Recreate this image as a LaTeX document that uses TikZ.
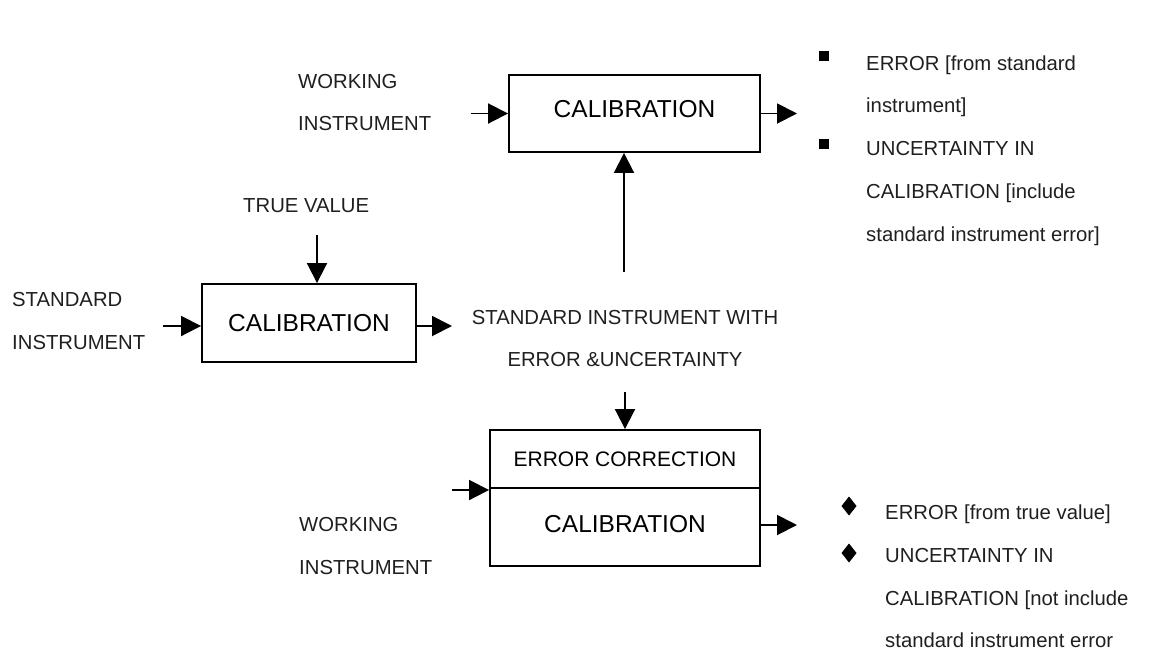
\documentclass[tikz,border=0pt]{standalone}
\usepackage{fontspec}
\setmainfont{Liberation Sans}
\usetikzlibrary{arrows.meta}
\begin{document}
\begin{tikzpicture}[x=1pt,y=-1pt,
  lbl/.style={inner sep=0pt, anchor=base west, text=black!88,
              font=\fontsize{20.3}{24}\selectfont},
  box/.style={draw, line width=1.9pt, inner sep=0pt, text=black},
  bigtxt/.style={font=\fontsize{24.5}{28}\selectfont},
  arr/.style={line width=1.9pt, -{Triangle[length=20pt,width=20pt]}},
  sqbullet/.style={fill=black, minimum size=9.5pt, inner sep=0pt},
]
\useasboundingbox (0,0) rectangle (1154,657);

% calibration blocks
\node[box, bigtxt, minimum width=251pt, minimum height=77pt, text depth=9pt]
  (calTop) at (634.5,113.5) {CALIBRATION};
\node[box, bigtxt, minimum width=214pt, minimum height=78pt]
  (calStd) at (309,323) {CALIBRATION};
\node[box, font=\fontsize{21}{25}\selectfont, minimum width=270pt, minimum height=58pt]
  (errCorr) at (625,459) {ERROR CORRECTION};
\node[box, bigtxt, minimum width=270pt, minimum height=78pt, text depth=6pt]
  (calBot) at (625,527) {CALIBRATION};

% labels
\node[lbl] (wkA1) at (298,88) {WORKING};
\node[lbl] (wkA2) at (298,130) {INSTRUMENT};
\node[lbl] (tv) at (243,212) {TRUE VALUE};
\node[lbl] (st1) at (12,306) {STANDARD};
\node[lbl] (st2) at (12,349) {INSTRUMENT};
\node[lbl, anchor=base] (sw1) at (625,324) {STANDARD INSTRUMENT WITH};
\node[lbl, anchor=base] (sw2) at (625,366) {ERROR \&UNCERTAINTY};
\node[lbl] (wkB1) at (299,531) {WORKING};
\node[lbl] (wkB2) at (299,574) {INSTRUMENT};

% results of the working-instrument calibration
\node[sqbullet] (sq1) at (824,56) {};
\node[sqbullet] (sq2) at (824,144) {};
\node[lbl] (ra1) at (866,70) {ERROR [from standard};
\node[lbl] (ra2) at (866,112) {instrument]};
\node[lbl] (ra3) at (866,155) {UNCERTAINTY IN};
\node[lbl] (ra4) at (866,198) {CALIBRATION [include};
\node[lbl] (ra5) at (866,241) {standard instrument error]};

% results of the corrected calibration
\coordinate (dm1) at (849,506);
\coordinate (dm2) at (849,553);
\foreach \d in {dm1,dm2}
  \fill ([xshift=-7.5pt]\d) -- ([yshift=9.5pt]\d) -- ([xshift=7.5pt]\d)
        -- ([yshift=-9.5pt]\d) -- cycle;
\node[lbl] (rb1) at (885,519) {ERROR [from true value]};
\node[lbl] (rb2) at (885,562) {UNCERTAINTY IN};
\node[lbl] (rb3) at (885,605) {CALIBRATION [not include};
\node[lbl] (rb4) at (885,647) {standard instrument error};

% connectors
\coordinate (inTop) at (471,113.5);
\coordinate (outTop) at (797,113.5);
\coordinate (upStart) at (624,272);
\coordinate (tvStart) at (317,235);
\coordinate (inStd) at (163,326);
\coordinate (outStd) at (452,326);
\coordinate (dnStart) at (625,392);
\coordinate (inBot) at (452,490);
\coordinate (outBot) at (797,525);

\draw[arr] (inTop) -- (calTop.west);
\draw[arr] (calTop.east) -- (outTop);
\draw[arr] (upStart) -- (upStart |- calTop.south);
\draw[arr] (tvStart) -- (tvStart |- calStd.north);
\draw[arr] (inStd) -- (inStd -| calStd.west);
\draw[arr] (outStd -| calStd.east) -- (outStd);
\draw[arr] (dnStart) -- (dnStart |- errCorr.north);
\draw[arr] (inBot) -- (inBot -| calBot.west);
\draw[arr] (outBot -| calBot.east) -- (outBot);
\end{tikzpicture}
\end{document}
